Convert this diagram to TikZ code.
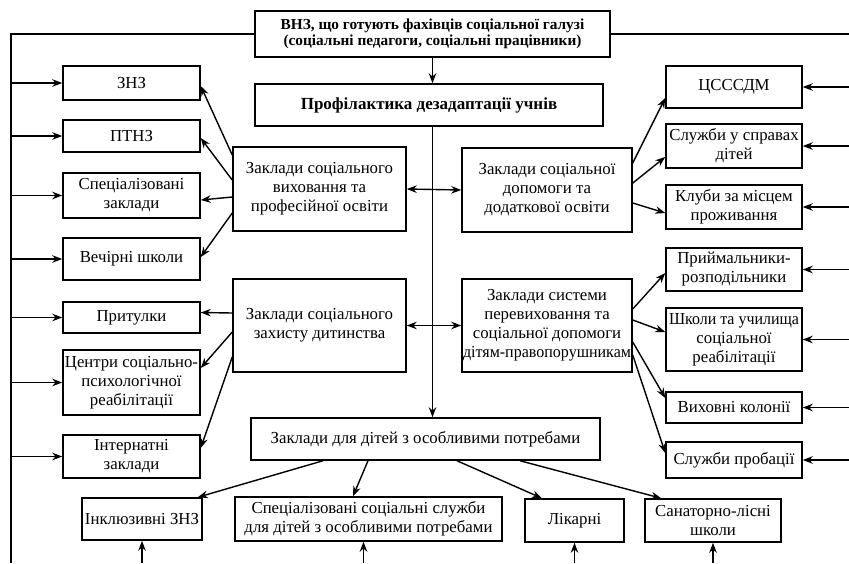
\documentclass[tikz,border=0pt]{standalone}
\usepackage{fontspec}
\usepackage{graphicx}
\setmainfont{Liberation Serif}
\usetikzlibrary{arrows.meta,calc}
\begin{document}
\begin{tikzpicture}[x=1pt,y=-1pt,
  box/.style={draw,line width=1.5pt,align=center,inner sep=0pt,font=\fontsize{16.8}{19}\selectfont},
  arr/.style={line width=1.4pt,-{Stealth[length=10pt,width=7.5pt]}},
  dbl/.style={line width=1.4pt,{Stealth[length=10pt,width=7.5pt]}-{Stealth[length=10pt,width=7.5pt]}},
  ln/.style={line width=1.4pt}]
\useasboundingbox (0,0) rectangle (849,563);
\newcommand{\bx}[6]{\node[box,minimum width=#4pt,minimum height=#5pt] (#1) at (#2,#3) {#6};}
\newcommand{\fit}[2]{\resizebox{#1pt}{\height}{#2}}
% top
\node[box,font=\fontsize{15.3}{16.5}\selectfont\bfseries,minimum width=355pt,minimum height=46pt] (top) at (432.5,34) {ВНЗ, що готують фахівців соціальної галузі\\(соціальні педагоги, соціальні працівники)};
\node[box,font=\fontsize{17}{19}\selectfont\bfseries,minimum width=348pt,minimum height=42pt] (prof) at (429,105) {Профілактика дезадаптації учнів};
% left column
\bx{znz}{131.5}{83}{137}{34}{ЗНЗ}
\bx{ptnz}{131.5}{136}{137}{32}{ПТНЗ}
\bx{spec}{131.5}{195.5}{137}{45}{Спеціалізовані\\заклади}
\bx{vech}{131.5}{259}{137}{42}{Вечірні школи}
\bx{prit}{131.5}{317.5}{137}{31}{Притулки}
\bx{centr}{131.5}{382.5}{137}{65}{\fit{133}{Центри соціально-}\\психологічної\\реабілітації}
\bx{intern}{131.5}{456.5}{137}{43}{Інтернатні\\заклади}
% middle
\bx{zsv}{319.5}{189}{173}{84}{Заклади соціального\\виховання та\\професійної освіти}
\bx{zsz}{319.5}{325.5}{173}{93}{Заклади соціального\\захисту дитинства}
\bx{zsd}{547}{190}{170}{84}{Заклади соціальної\\допомоги та\\додаткової освіти}
\bx{zsp}{547}{325.5}{170}{93}{Заклади системи\\перевиховання та\\соціальної допомоги\\\fit{168}{дітям-правопорушникам}}
% right column
\bx{cs}{734}{87}{136}{42}{ЦСССДМ}
\bx{sl}{734}{146}{136}{44}{Служби у справах\\дітей}
\bx{kl}{734}{207}{136}{44}{Клуби за місцем\\проживання}
\bx{pr}{734}{269.5}{136}{43}{Приймальники-\\розподільники}
\bx{shk}{734}{339.5}{136}{63}{\fit{130}{Школи та училища}\\соціальної\\реабілітації}
\bx{vk}{734}{407.5}{136}{31}{Виховні колонії}
\bx{sp}{734}{460}{136}{36}{Служби пробації}
% bottom
\bx{zdp}{425.5}{439}{349}{42}{Заклади для дітей з особливими потребами}
\bx{inkl}{142}{519}{120}{42}{Інклюзивні ЗНЗ}
\bx{sss}{368.5}{519}{267}{44}{Спеціалізовані соціальні служби\\для дітей з особливими потребами}
\bx{lik}{574.5}{520.5}{99}{43}{Лікарні}
\bx{san}{713}{520.5}{136}{43}{Санаторно-лісні\\школи}
% frame coordinates
\coordinate (L2) at (11,563);
\coordinate (R1) at (849,33);
\coordinate (B) at (0,563);
\draw[ln] (top.west) -| (L2);
\draw[ln] (top.east) -- (top.east -| R1);
\foreach \n in {znz,ptnz,spec,vech,prit,centr,intern}
  \draw[arr] (\n.west -| L2) -- (\n.west);
\foreach \n in {cs,sl,kl,pr,shk,vk,sp}
  \draw[arr] (\n.east -| R1) -- (\n.east);
\draw[arr] (inkl.south |- B) -- (inkl.south);
\draw[arr] ($(sss.south |- B)+(-5,0)$) -- ($(sss.south)+(-5,0)$);
\draw[arr] (lik.south |- B) -- (lik.south);
\draw[arr] (san.south |- B) -- (san.south);
% centre spine
\draw[arr] (top.south) -- (top.south |- prof.north);
\draw[arr] (prof.south -| top.south) -- (zdp.north -| top.south);
\draw[dbl] (zsv.east) -- (zsd.west);
\draw[dbl] (zsz.east) -- (zsz.east -| zsp.west);
% zsv
\draw[arr] ($(zsv.west)+(0,-34)$) -- ($(znz.east)+(0,3)$);
\draw[arr] ($(zsv.west)+(0,-9)$) -- ($(ptnz.east)+(0,2)$);
\draw[arr] ($(zsv.west)+(0,8)$) -- ($(spec.east)+(0,4.5)$);
\draw[arr] ($(zsv.west)+(0,24)$) -- ($(vech.east)+(0,-2)$);
% zsz
\draw[arr] ($(zsz.west)+(0,-12.5)$) -- ($(prit.east)+(0,-5)$);
\draw[arr] ($(zsz.west)+(0,6.5)$) -- ($(centr.east)+(0,-14.5)$);
\draw[arr] ($(zsz.west)+(0,31.5)$) -- ($(intern.east)+(0,-8.5)$);
% zsd
\draw[arr] ($(zsd.east)+(0,-27)$) -- ($(cs.west)+(0,11)$);
\draw[arr] ($(zsd.east)+(0,-7)$) -- ($(sl.west)+(0,11)$);
\draw[arr] ($(zsd.east)+(0,13)$) -- ($(kl.west)+(0,6)$);
% zsp
\draw[arr] ($(zsp.east)+(0,-16.5)$) -- ($(pr.west)+(0,3.5)$);
\draw[arr] ($(zsp.east)+(0,-5.5)$) -- ($(shk.west)+(0,-7.5)$);
\draw[arr] ($(zsp.east)+(0,16.5)$) -- ($(vk.west)+(0,-9.5)$);
\draw[arr] ($(zsp.east)+(0,29.5)$) -- ($(sp.west)+(0,-7)$);
% zdp
\draw[arr] ($(zdp.south)+(-102.5,0)$) -- ($(inkl.north east)+(-5,0)$);
\draw[arr] ($(zdp.south)+(-57.5,0)$) -- ($(sss.north)+(-15.5,0)$);
\draw[arr] ($(zdp.south)+(31.5,0)$) -- ($(lik.north)+(-32.5,0)$);
\draw[arr] ($(zdp.south)+(94.5,0)$) -- ($(san.north west)+(17,0)$);
\end{tikzpicture}
\end{document}
